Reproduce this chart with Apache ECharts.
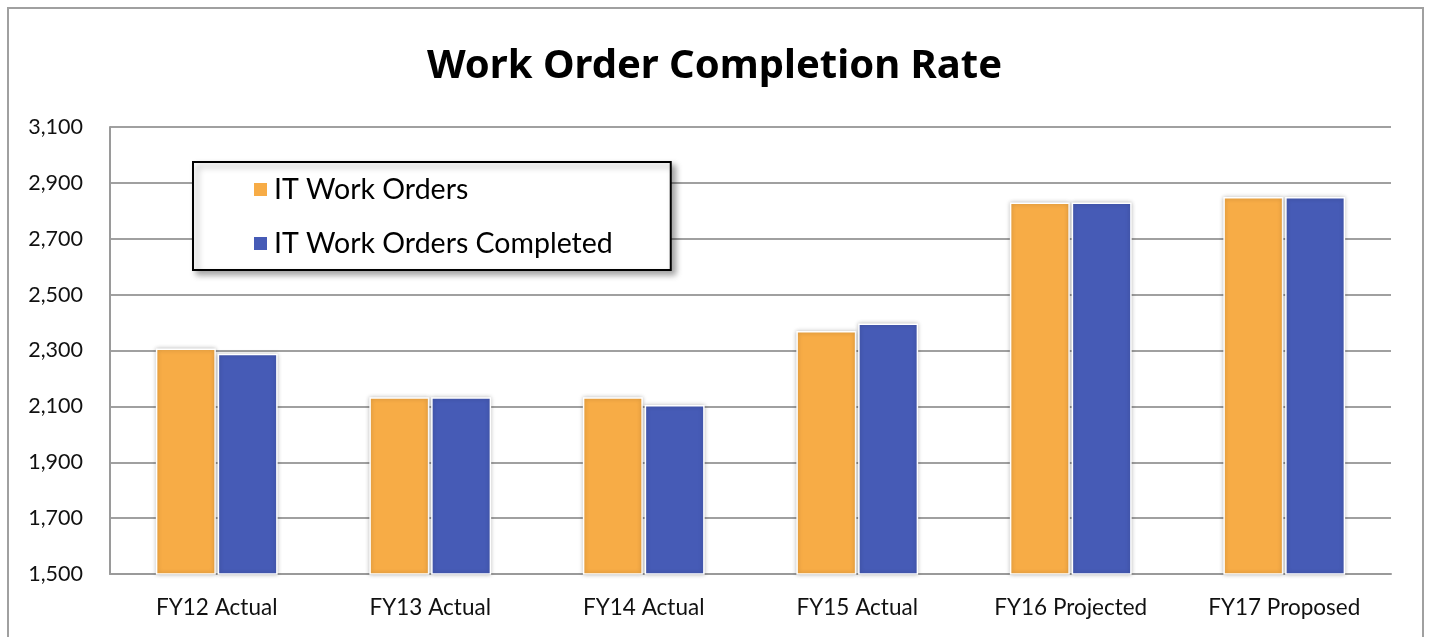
<!DOCTYPE html>
<html>
<head>
<meta charset="utf-8">
<script src="https://cdn.jsdelivr.net/npm/echarts@6/dist/echarts.min.js"></script>
<style>
  html, body { margin: 0; padding: 0; background: #fff; }
  #chart { width: 1429px; height: 637px; }
</style>
</head>
<body>
<div id="chart"></div>
<script>
// data
const categories = ['FY12 Actual', 'FY13 Actual', 'FY14 Actual', 'FY15 Actual', 'FY16 Projected', 'FY17 Proposed']
const workOrders = [2307, 2133, 2133, 2370, 2830, 2849]
const workOrdersCompleted = [2288, 2133, 2105, 2397, 2830, 2849]
const seriesNames = ['IT Work Orders', 'IT Work Orders Completed']

const FONT = 'Lato, "Noto Sans", sans-serif'

const chart = echarts.init(document.getElementById('chart'))

const barStyle = (color) => ({
  color: color,
  borderColor: '#fff',
  borderWidth: 1.5,
  shadowBlur: 4,
  shadowColor: 'rgba(0,0,0,0.25)',
})

const option = {
  animation: false,
  backgroundColor: '#fff',
  textStyle: {fontFamily: FONT},
  // outer frame of the chart area
  graphic: [
    {
      type: 'rect',
      shape: {x: 8, y: 8, width: 1415, height: 660},
      style: {fill: 'none', stroke: '#a0a0a0', lineWidth: 2},
      silent: true,
    },
  ],
  title: {
    text: 'Work Order Completion Rate',
    left: 'center',
    top: 42,
    textStyle: {fontFamily: '"Noto Sans", sans-serif', fontSize: 40, fontWeight: 'bold', color: '#000'},
  },
  legend: {
    orient: 'vertical',
    left: 193,
    top: 162,
    padding: [13, 58, 12, 59],
    itemWidth: 15,
    itemHeight: 15,
    itemGap: 25,
    backgroundColor: '#fff',
    borderColor: '#000',
    borderWidth: 2,
    shadowBlur: 6,
    shadowOffsetX: 4,
    shadowOffsetY: 4,
    shadowColor: 'rgba(0,0,0,0.35)',
    icon: 'rect',
    textStyle: {fontFamily: FONT, fontSize: 28.5, color: '#000', padding: [0, 0, 0, 1]},
    data: seriesNames,
  },
  grid: {left: 110, right: 38, top: 127, bottom: 63},
  xAxis: {
    type: 'category',
    data: categories,
    axisLine: {show: true, lineStyle: {color: '#9a9a9a', width: 2}},
    axisTick: {show: false},
    axisLabel: {fontFamily: FONT, fontSize: 22.5, color: '#111', margin: 22},
  },
  yAxis: {
    type: 'value',
    min: 1500,
    max: 3100,
    interval: 200,
    axisLine: {show: true, lineStyle: {color: '#9a9a9a', width: 2}},
    axisTick: {show: false},
    axisLabel: {
      fontFamily: FONT,
      fontSize: 21.5,
      color: '#111',
      margin: 27,
      formatter: (v) => v.toLocaleString('en-US'),
    },
    splitLine: {lineStyle: {color: '#a0a0a0', width: 2}},
  },
  series: [
    {
      name: seriesNames[0],
      type: 'bar',
      data: workOrders,
      barWidth: 60,
      barGap: '3%',
      itemStyle: barStyle('#f7ac46'),
    },
    {
      name: seriesNames[1],
      type: 'bar',
      data: workOrdersCompleted,
      barWidth: 60,
      barGap: '3%',
      itemStyle: barStyle('#465bb6'),
    },
  ],
}

chart.setOption(option)
</script>
</body>
</html>
